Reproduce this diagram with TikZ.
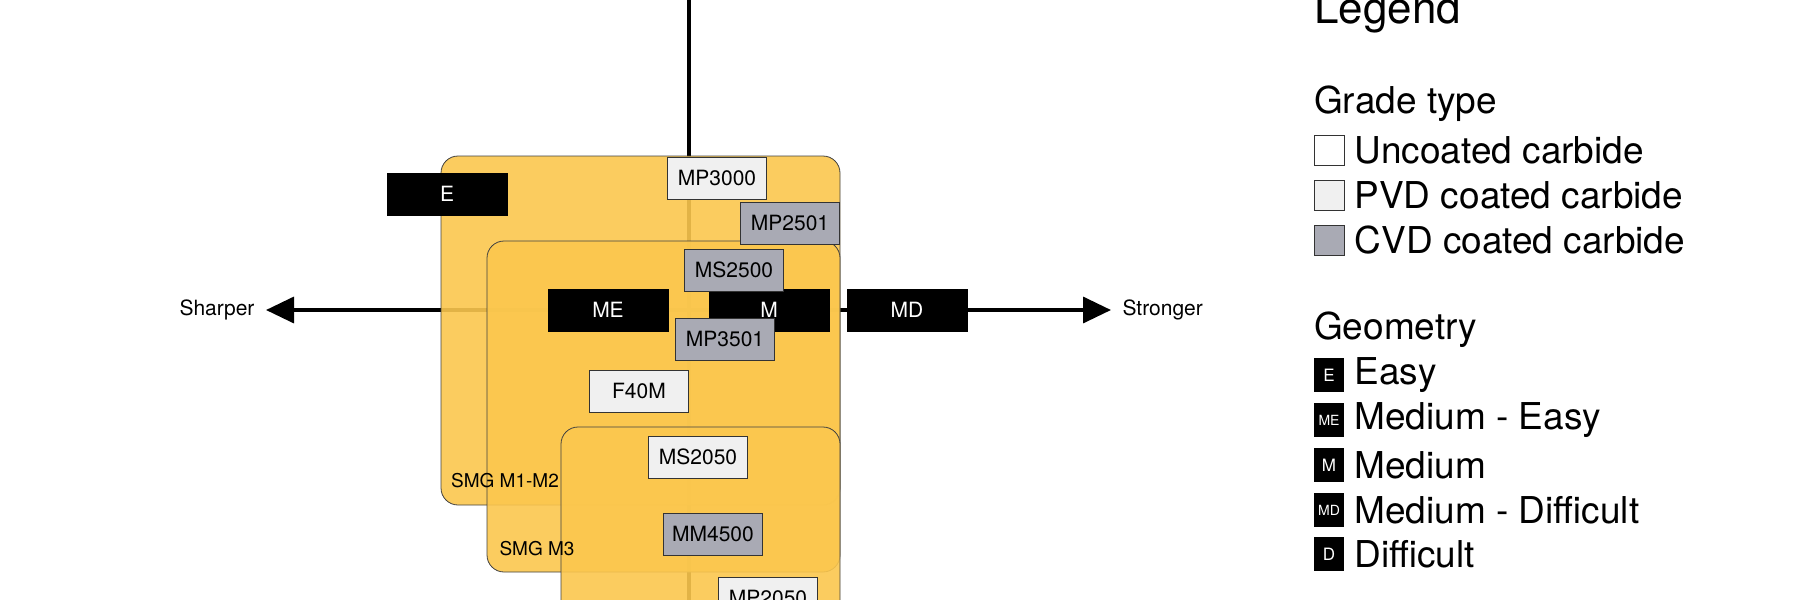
\documentclass[tikz,border=0pt]{standalone}
\usepackage{fontspec}
\setmainfont{TeX Gyre Heros}
\usetikzlibrary{arrows.meta}
\definecolor{smg}{HTML}{FBC74E}
\definecolor{pvd}{HTML}{F0F0F0}
\definecolor{cvd}{HTML}{A9AAB4}
\tikzset{
  grade/.style={shape=rectangle, draw=black!80, line width=0.8pt, minimum width=99pt, minimum height=42pt, inner sep=0pt, font=\fontsize{21}{21}\selectfont},
  unc/.style={grade, fill=white},
  pvdg/.style={grade, fill=pvd},
  cvdg/.style={grade, fill=cvd},
  geom/.style={shape=rectangle, fill=black, text=white, minimum width=121pt, minimum height=43pt, inner sep=0pt, font=\fontsize{21}{21}\selectfont},
  group/.style={draw=black!75, line width=0.8pt, fill=smg, fill opacity=0.9, rounded corners=17pt},
  axis/.style={line width=3.5pt, -{Triangle[length=28pt, width=26pt]}},
  sq/.style={shape=rectangle, draw=black!80, line width=0.8pt, minimum size=30pt, inner sep=0pt},
  gsq/.style={shape=rectangle, fill=black, text=white, minimum width=30pt, minimum height=34pt, inner sep=0pt, font=\fontsize{17}{17}\selectfont},
  leg/.style={anchor=west, inner sep=0pt, font=\fontsize{37}{37}\selectfont},
  head/.style={anchor=west, inner sep=0pt, font=\fontsize{37}{37}\selectfont}
}
\begin{document}
\begin{tikzpicture}[x=1pt, y=-1pt]
  \useasboundingbox (0,0) rectangle (1800,600);
  % axes
  \coordinate (top) at (689,0);
  \coordinate (bottom) at (689,600);
  \coordinate (left) at (266,310);
  \coordinate (right) at (1111,310);
  \draw[line width=3.5pt] (top) -- (bottom);
  \draw[axis] (689,310) -- (left);
  \draw[axis] (689,310) -- (right);
  \node (sharper) at (left) [anchor=east, xshift=-8pt, font=\fontsize{21}{21}\selectfont] {Sharper};
  \node (stronger) at (right) [anchor=west, xshift=8pt, font=\fontsize{21}{21}\selectfont] {Stronger};
  % material groups
  \draw[group] (441,156) rectangle (840,505);
  \draw[group] (487,241) rectangle (840,572);
  \draw[group] (561,427) rectangle (840,640);
  \node (m12) at (505,481) [font=\fontsize{19}{19}\selectfont] {SMG M1-M2};
  \node (m3) at (537,549) [font=\fontsize{19}{19}\selectfont] {SMG M3};
  % geometries
  \node (e) at (447,194) [geom] {E};
  \node (me) at (608,310) [geom] {ME};
  \node (m) at (769,310) [geom] {M};
  \node (md) at (907,310) [geom] {MD};
  % grades
  \node (mp3000) at (717,178) [pvdg] {MP3000};
  \node (mp2501) at (790,223) [cvdg] {MP2501};
  \node (ms2500) at (734,270) [cvdg] {MS2500};
  \node (mp3501) at (725,339) [cvdg] {MP3501};
  \node (f40m) at (639,391) [pvdg] {F40M};
  \node (ms2050) at (698,457) [pvdg] {MS2050};
  \node (mm4500) at (713,534) [cvdg] {MM4500};
  \node (mp2050) at (768,598) [pvdg] {MP2050};
  % legend
  \node (legend) at (1314,12) [head, font=\fontsize{44}{44}\selectfont] {Legend};
  \node (gradetype) at (1314,104) [head] {Grade type};
  \node (sq1) at (1329,150) [sq, fill=white] {};
  \node (sq2) at (1329,195) [sq, fill=pvd] {};
  \node (sq3) at (1329,240) [sq, fill=cvd] {};
  \node at (sq1.east) [leg, xshift=10pt] {Uncoated carbide};
  \node at (sq2.east) [leg, xshift=10pt] {PVD coated carbide};
  \node at (sq3.east) [leg, xshift=10pt] {CVD coated carbide};
  \node (geometry) at (1314,330) [head] {Geometry};
  \node (g1) at (1329,375) [gsq] {E};
  \node (g2) at (1329,420) [gsq, font=\fontsize{14}{14}\selectfont] {ME};
  \node (g3) at (1329,465) [gsq] {M};
  \node (g4) at (1329,510) [gsq, font=\fontsize{14}{14}\selectfont] {MD};
  \node (g5) at (1329,554) [gsq] {D};
  \node at (g1.east) [leg, xshift=10pt] {Easy};
  \node at (g2.east) [leg, xshift=10pt] {Medium - Easy};
  \node at (g3.east) [leg, xshift=10pt] {Medium};
  \node at (g4.east) [leg, xshift=10pt] {Medium - Difficult};
  \node at (g5.east) [leg, xshift=10pt] {Difficult};
\end{tikzpicture}
\end{document}
